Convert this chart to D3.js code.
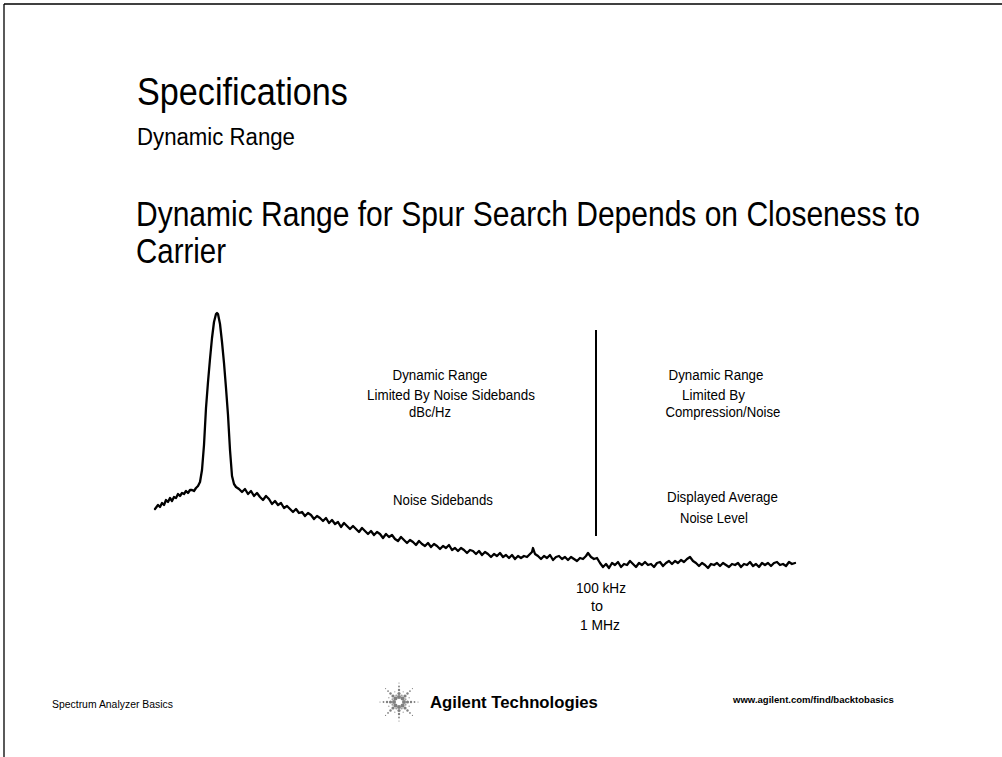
<!DOCTYPE html>
<html><head><meta charset="utf-8">
<script src="https://cdn.jsdelivr.net/npm/d3@7"></script>
<style>
html,body{margin:0;padding:0;background:#fff;}
svg{display:block;}
text{font-family:"Liberation Sans","Arial",sans-serif;fill:#000;}
</style></head>
<body>
<svg id="c" width="1002" height="757"></svg>
<script>
// Titles
const titleMain = "Specifications";
const titleSub = "Dynamic Range";
const headingLines = ["Dynamic Range for Spur Search Depends on Closeness to", "Carrier"];

// Spectrum trace: [frequency offset (arb. units), level (dBc)]
const trace = [
[0,-98],[3,-96],[5,-97],[7,-95],[9,-96],[11,-93.5],[13,-94.5],[15,-92.5],[17,-94],[19,-92],
[21,-92.5],[23,-90.5],[25,-91.5],[27,-90],[29,-90.5],[31,-89],[33,-90],[35,-88.5],[37,-88.5],[39,-89],
[41,-87.5],[43,-86.5],[45,-84.5],
[47,-78.5],[49,-66],[51,-47.5],[53,-34.5],[55,-23],[57,-12.5],[59,-4.5],[61,-0.5],[62,0],[63,-0.5],
[65,-5.5],[67,-14.5],[69,-25],[71,-37.5],[73,-51],[75,-68.5],[77,-81.5],[79,-85.5],[81,-87],
[84,-88],[87,-89.5],[90,-88],[93,-90.5],[96,-89],[99,-91.5],[102,-90],[105,-92],[108,-93.5],[111,-91.5],
[114,-93],[117,-95.5],[120,-94],[123,-96],[126,-95],[129,-97.5],[132,-96.5],[135,-98],[138,-99.5],[141,-98],
[144,-100],[147,-99.5],[150,-101.5],[153,-100],[156,-101],[159,-103],[162,-101.5],[165,-102.5],[168,-104],[171,-102.5],
[174,-105],[177,-103.5],[180,-105.5],[183,-104.5],[186,-107],[189,-105],[192,-106.5],[195,-108],[198,-106.5],[201,-108],
[204,-109.5],[207,-107.5],[210,-109],[213,-110.5],[216,-109],[219,-111],[222,-109.5],[225,-110.5],[228,-112.5],[231,-110.5],
[234,-112],[237,-111],[240,-113],[243,-114],[246,-112],[249,-113.5],[252,-115],[255,-113.5],[258,-114.5],[261,-116],
[264,-114],[267,-115.5],[270,-116.5],[273,-115],[276,-117],[279,-115.5],[282,-116.5],[285,-118],[288,-116.5],[291,-117.5],
[294,-116],[297,-118.5],[300,-117.5],[303,-119],[306,-117.5],[309,-118.5],[312,-120],[315,-118.5],[318,-119],[321,-120.5],
[324,-119],[327,-121],[330,-119.5],[333,-120.5],[336,-122],[339,-120.5],[342,-121.5],[345,-120],[348,-122],[351,-121],
[354,-122.5],[357,-121],[360,-123],[363,-121.5],[366,-122.5],[369,-121.5],[372,-122],[375,-120.5],[377,-119.5],[378,-117.5],
[380,-120.5],[383,-121.5],[386,-123],[389,-121.5],[392,-122.5],[395,-121],[398,-123.5],[401,-122],[404,-121.5],[407,-123],
[410,-122],[413,-123.5],[416,-122],[419,-123],[422,-124],[425,-122.5],[428,-123],[431,-121.5],[433,-120],[436,-122],
[439,-123],[442,-122.5],[445,-125],[448,-127],[451,-125.5],[454,-127.5],[457,-125],[460,-126],[463,-124.5],[466,-127],
[469,-125.5],[472,-126],[475,-124],[478,-125.5],[481,-127],[484,-125],[487,-126],[490,-124.5],[493,-126],[496,-125.5],
[499,-127],[502,-125],[505,-124.5],[508,-126.5],[511,-125],[514,-124],[517,-125.5],[520,-124],[523,-125],[526,-123.5],
[529,-124.5],[532,-123],[535,-122],[538,-124],[541,-125],[544,-126.5],[547,-125],[550,-126],[553,-127.5],[556,-125.5],
[559,-126],[562,-125],[565,-126.5],[568,-125],[571,-126],[574,-127],[577,-125.5],[580,-126],[583,-125],[586,-127],
[589,-125.5],[592,-126],[595,-124.5],[598,-126.5],[601,-125.5],[604,-127],[607,-125],[610,-126],[613,-125],[616,-126.5],
[619,-125],[622,-124.5],[625,-126],[628,-125.5],[631,-126.5],[634,-124.5],[637,-125.5],[640,-125]
];

// Boundary between close-in (phase noise) and far-out (DANL) region
const boundaryFreq = 441;
const boundaryLevels = [-8.5, -111.5];

// Annotations: [text, freq (centre), level (baseline), width]
const annotations = [
  ["Dynamic Range", 285, -33.5, 95],
  ["Limited By Noise Sidebands", 296, -43.5, 168],
  ["dBc/Hz", 275, -52, 42],
  ["Dynamic Range", 561, -33.5, 95],
  ["Limited By", 558.5, -43.5, 63],
  ["Compression/Noise", 568, -52, 115],
  ["Noise Sidebands", 288, -96, 100],
  ["Displayed Average", 567.5, -94.5, 111],
  ["Noise Level", 559, -105, 68],
  ["100 kHz", 446, -140, 50],
  ["to", 442, -149, 12],
  ["1 MHz", 445, -158.5, 40]
];

const footerLeft = "Spectrum Analyzer Basics";
const footerBrand = "Agilent Technologies";
const footerUrl = "www.agilent.com/find/backtobasics";

const svg = d3.select("#c");

// page frame (top and left edges)
svg.append("line").attr("x1",4).attr("y1",4).attr("x2",1002).attr("y2",4).attr("stroke","#000").attr("stroke-width",1.6);
svg.append("line").attr("x1",4).attr("y1",4).attr("x2",4).attr("y2",757).attr("stroke","#000").attr("stroke-width",1.3);

// condensed text: natural glyphs scaled horizontally to the measured width
function txt(s, x, y, size, width, opts={}) {
  const g = svg.append("g");
  const t = g.append("text").attr("x",0).attr("y",0).attr("font-size",size).text(s);
  if (opts.bold) t.attr("font-weight","bold");
  const nat = t.node().getComputedTextLength();
  const k = width / nat;
  const left = opts.center ? x - width/2 : x;
  g.attr("transform", `translate(${left},${y}) scale(${k},1)`);
  return t;
}

txt(titleMain, 137, 105, 39, 211);
txt(titleSub, 137, 145, 23.5, 158);
txt(headingLines[0], 136, 226, 35, 784);
txt(headingLines[1], 136, 263, 35, 90);

// scales
const x = d3.scaleLinear().domain([0, 640]).range([155, 795]);
const y = d3.scaleLinear().domain([0, -140]).range([313, 593]);

const line = d3.line().x(d => x(d[0])).y(d => y(d[1])).curve(d3.curveLinear);
svg.append("path").datum(trace).attr("d", line)
  .attr("fill","none").attr("stroke","#000").attr("stroke-width",2.3)
  .attr("stroke-linejoin","round").attr("stroke-linecap","round");

svg.append("line")
  .attr("x1", x(boundaryFreq)).attr("x2", x(boundaryFreq))
  .attr("y1", y(boundaryLevels[0])).attr("y2", y(boundaryLevels[1]))
  .attr("stroke","#000").attr("stroke-width",2);

annotations.forEach(a => {
  txt(a[0], x(a[1]), y(a[2]), 14.5, a[3], {center:true});
});

// footer
txt(footerLeft, 52, 708, 11.5, 121);
txt(footerBrand, 430, 708, 16.5, 168, {bold:true});
txt(footerUrl, 733, 703, 9.5, 161, {bold:true});

// logo spark
const logo = svg.append("g").attr("transform","translate(399,702)");
const rays = 8;
for (let r = 0; r < rays; r++) {
  const ang = r * Math.PI * 2 / rays;
  const steps = [[5,2.0],[8.5,1.6],[12,1.2],[15.5,0.9],[19,0.6]];
  steps.forEach(s => {
    logo.append("circle").attr("cx", Math.cos(ang)*s[0]).attr("cy", Math.sin(ang)*s[0])
      .attr("r", s[1]).attr("fill", "#808080");
  });
}
for (let r = 0; r < rays; r++) {
  const ang = (r + 0.5) * Math.PI * 2 / rays;
  [[7,1.1],[11,0.7]].forEach(s => {
    logo.append("circle").attr("cx", Math.cos(ang)*s[0]).attr("cy", Math.sin(ang)*s[0])
      .attr("r", s[1]).attr("fill", "#a0a0a0");
  });
}
</script>
</body></html>
